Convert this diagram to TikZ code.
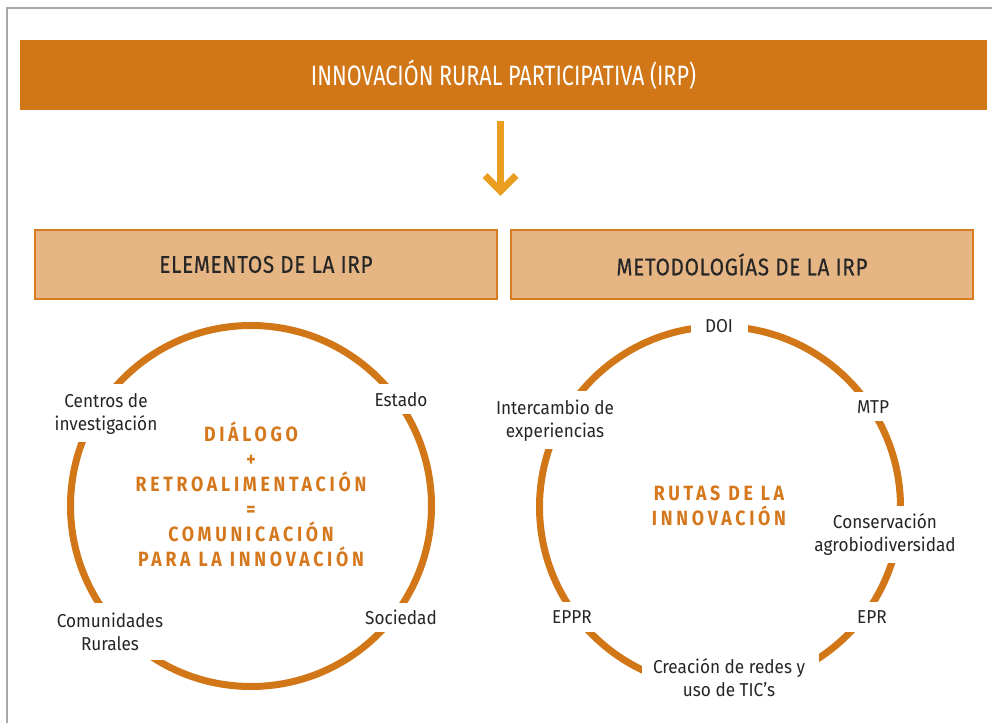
\documentclass[tikz,border=0pt]{standalone}
\usepackage{fontspec}
\setmainfont{Fira Sans}[FakeStretch=0.92]
\newfontfamily\bannerfont{Fira Sans}[FakeStretch=0.77]
\newfontfamily\headfont{Fira Sans}[FakeStretch=0.86, LetterSpace=3, FakeBold=0.3]
\newfontfamily\midfont{Fira Sans}[FakeStretch=0.86, LetterSpace=18]
\usetikzlibrary{calc}
\definecolor{bannerC}{HTML}{D17717}
\definecolor{boxFill}{HTML}{E6B584}
\definecolor{boxLine}{HTML}{DA7B1F}
\definecolor{ringC}{HTML}{D27718}
\definecolor{arrowC}{HTML}{EA9E1F}
\definecolor{midC}{HTML}{D5781D}
\definecolor{darkT}{HTML}{262626}
\definecolor{frameC}{HTML}{A8A8A8}
\tikzset{
  banner/.style={fill=bannerC, minimum width=725.25pt, minimum height=52.5pt, inner sep=0pt,
    text=white, font=\bannerfont\fontsize{21}{24}\selectfont},
  headbox/.style={fill=boxFill, draw=boxLine, line width=1.2pt, minimum width=346.5pt,
    minimum height=51.75pt, inner sep=0pt, text=darkT, font=\headfont\fontsize{18}{20}\selectfont},
  ring/.style={circle, draw=ringC, line width=5.25pt, minimum size=270.75pt, inner sep=0pt},
  lbl/.style={text=darkT, align=center, inner sep=0pt, font=\fontsize{14}{17.25}\selectfont},
  midtext/.style={text=midC, align=center, inner sep=0pt, font=\midfont\bfseries\fontsize{15.5}{18.75}\selectfont},
  arrowline/.style={draw=arrowC, line width=5.25pt},
  cover/.style={fill=white},
  framel/.style={draw=frameC, line width=1.5pt}
}
\begin{document}
\begin{tikzpicture}[x=0.75pt,y=-0.75pt]
\useasboundingbox (0,0) rectangle (992,723);
% frame
\draw[framel] (7,723) -- (7,8) -- (992,8);
% banner
\node[banner] (irp) at (503.5,75) {INNOVACIÓN RURAL PARTICIPATIVA (IRP)};
% arrow
\coordinate (arrS) at (500.5,121);
\coordinate (arrE) at (500.5,191);
\draw[arrowline] (arrS) -- ($(arrE)+(0,-3)$);
\draw[arrowline, line join=miter] ($(arrE)+(-15.5,-15.5)$) -- (arrE) -- ($(arrE)+(15.5,-15.5)$);
% header boxes
\node[headbox] (elem) at (266,264.5) {ELEMENTOS DE LA IRP};
\node[headbox] (meto) at (742,264.5) {METODOLOGÍAS DE LA IRP};
% rings
\node[ring] (ringL) at (251,506) {};
\node[ring] (ringR) at (720,507) {};
% covers (gaps in the rings)
\fill[cover] (40,384) rectangle (170,442);
\fill[cover] (360,384) rectangle (445,414);
\fill[cover] (355,603) rectangle (445,632);
\fill[cover] (40,603) rectangle (175,660);
\fill[cover] (691,305) rectangle (748,345);
\fill[cover] (835,392) rectangle (915,421);
\fill[cover] (810,506) rectangle (965,563);
\fill[cover] (835,602) rectangle (910,632);
\fill[cover] (642,645) rectangle (819,708);
\fill[cover] (535,602) rectangle (620,632);
\fill[cover] (480,391) rectangle (625,449);
% left labels
\node[lbl] (cen) at (106,414) {Centros de\\investigación};
\node[lbl] (est) at (401,400) {Estado};
\node[lbl] (soc) at (401,617) {Sociedad};
\node[lbl] (com) at (110,632) {Comunidades\\Rurales};
\node[midtext] (dial) at (251,494) {DIÁLOGO\\+\\RETROALIMENTACIÓN\\=\\COMUNICACIÓN\\PARA LA INNOVACIÓN};
% right labels
\node[lbl] (doi) at (719,326) {DOI};
\node[lbl] (mtp) at (873,407) {MTP};
\node[lbl] (cons) at (885,535) {Conservación\\agrobiodiversidad};
\node[lbl] (epr) at (872,617) {EPR};
\node[lbl] (crea) at (729,678) {Creación de redes y\\uso de TIC’s};
\node[lbl] (eppr) at (572,617) {EPPR};
\node[lbl] (inter) at (555,421) {Intercambio de\\experiencias};
\node[midtext] (rutas) at (719,505.5) {RUTAS DE LA\\INNOVACIÓN};
\end{tikzpicture}
\end{document}
